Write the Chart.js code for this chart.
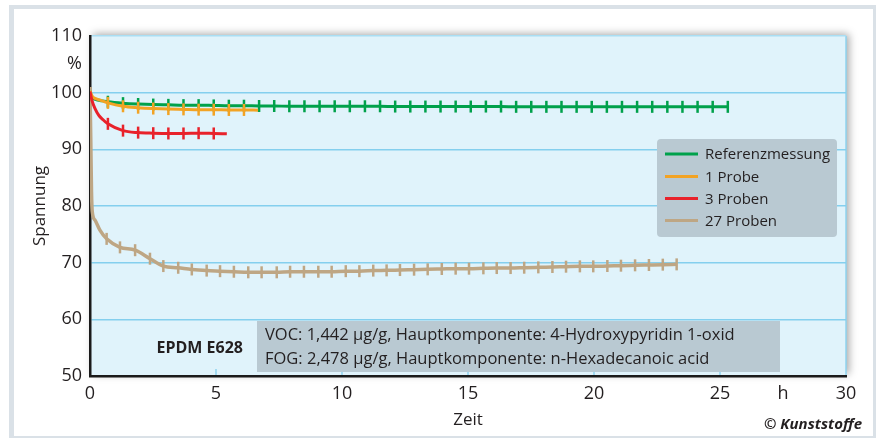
<!DOCTYPE html>
<html>
<head>
<meta charset="utf-8">
<script src="https://cdn.jsdelivr.net/npm/chart.js@4.4.1/dist/chart.umd.min.js"></script>
<style>
    body { margin: 0; background: #fff; }
    #frame {
        position: absolute; left: 9px; top: 5px; width: 867px; height: 433px;
        box-sizing: border-box; background: #fff;
        border-left: 5px solid #dae1e7; border-top: 4px solid #dae1e7;
        border-right: 3px solid #dae1e7; border-bottom: 2px solid #dae1e7;
    }
    #chart { position: absolute; left: 0; top: 0; }
</style>
</head>
<body>
<div id="frame"></div>
<canvas id="chart" width="876" height="439"></canvas>
<script>
// series labels
var seriesNames = ["Referenzmessung", "1 Probe", "3 Proben", "27 Proben"];

// Referenzmessung
var refLeadX = [0, 0.06, 0.15, 0.3, 0.5];
var refLeadY = [100.4, 99.2, 98.9, 98.7, 98.55];
var refTickX = [0.71, 1.31, 1.91, 2.51, 3.11, 3.71, 4.31, 4.91, 5.51, 6.11,
    6.71, 7.31, 7.91, 8.51, 9.11, 9.71, 10.31, 10.91, 11.51, 12.11,
    12.71, 13.31, 13.91, 14.51, 15.11, 15.71, 16.31, 16.91, 17.51, 18.11,
    18.71, 19.31, 19.91, 20.51, 21.11, 21.71, 22.31, 22.91, 23.51, 24.11,
    24.71, 25.31];
var refTickY = [98.4, 98.15, 98.0, 97.9, 97.85, 97.8, 97.8, 97.75, 97.7, 97.7,
    97.65, 97.65, 97.6, 97.6, 97.6, 97.6, 97.6, 97.6, 97.6, 97.55,
    97.55, 97.55, 97.55, 97.55, 97.55, 97.55, 97.55, 97.5, 97.5, 97.5,
    97.5, 97.5, 97.5, 97.5, 97.5, 97.5, 97.5, 97.5, 97.5, 97.5,
    97.5, 97.5];

// 1 Probe
var p1LeadX = [0, 0.1, 0.25, 0.45];
var p1LeadY = [100.3, 99.3, 98.9, 98.6];
var p1TickX = [0.71, 1.31, 1.91, 2.51, 3.11, 3.71, 4.31, 4.91, 5.51, 6.11];
var p1TickY = [98.2, 97.6, 97.35, 97.2, 97.1, 97.05, 97.0, 97.0, 96.95, 96.95];
var p1TailX = [6.67];
var p1TailY = [96.9];

// 3 Proben
var p3LeadX = [0, 0.08, 0.2, 0.35, 0.5];
var p3LeadY = [100.2, 98.6, 97.2, 96.0, 95.3];
var p3TickX = [0.71, 1.31, 1.91, 2.51, 3.11, 3.71, 4.31, 4.91];
var p3TickY = [94.5, 93.3, 92.95, 92.85, 92.8, 92.8, 92.85, 92.8];
var p3TailX = [5.43];
var p3TailY = [92.75];

// 27 Proben
var p27LeadX = [0, 0.03, 0.06, 0.09, 0.2, 0.4];
var p27LeadY = [101, 92, 82.5, 79, 77.5, 75.7];
var p27TickX = [0.66, 1.19, 1.79, 2.38, 2.91, 3.5, 4.04, 4.63, 5.16, 5.71,
    6.28, 6.81, 7.41, 7.94, 8.49, 9.06, 9.59, 10.15, 10.69, 11.24,
    11.77, 12.3, 12.86, 13.4, 13.96, 14.51, 15.04, 15.61, 16.14, 16.69,
    17.23, 17.79, 18.35, 18.89, 19.44, 19.97, 20.53, 21.07, 21.63, 22.18,
    22.73, 23.28];
var p27TickY = [74.2, 72.7, 72.2, 70.7, 69.4, 69.1, 68.8, 68.6, 68.5, 68.4,
    68.3, 68.3, 68.3, 68.4, 68.4, 68.4, 68.4, 68.5, 68.5, 68.6,
    68.64, 68.7, 68.76, 68.82, 68.88, 68.94, 68.94, 69.0, 69.05, 69.05,
    69.11, 69.17, 69.23, 69.29, 69.35, 69.35, 69.41, 69.47, 69.53, 69.59,
    69.65, 69.7];

// axis ticks
var xTickLabels = { 0: "0", 5: "5", 10: "10", 15: "15", 20: "20", 25: "25", 27.5: "h", 30: "30" };
var yTickLabels = { 50: "50", 60: "60", 70: "70", 80: "80", 90: "90", 100: "100", 105: "%", 110: "110" };

var noteTitle = "EPDM E628";
var noteLines = [
    "VOC: 1,442 \u00b5g/g, Hauptkomponente: 4-Hydroxypyridin 1-oxid",
    "FOG: 2,478 \u00b5g/g, Hauptkomponente: n-Hexadecanoic acid"
];

function pts(xs, ys) {
    return xs.map(function (x, i) { return { x: x, y: ys[i] }; });
}

function series(label, color, lead, ticks, tail, mark, width, order) {
    var nLead = lead.length, nTick = ticks.length;
    return {
        label: label,
        data: lead.concat(ticks, tail),
        borderColor: color,
        backgroundColor: color,
        borderWidth: width,
        cubicInterpolationMode: "monotone",
        pointStyle: "line",
        rotation: 90,
        pointBorderWidth: 2.5,
        pointBorderColor: color,
        pointRadius: function (c) {
            return c.dataIndex >= nLead && c.dataIndex < nLead + nTick ? mark : 0;
        },
        order: order,
    };
}

var FONT = "'Open Sans', sans-serif";
var TXT = "#231f20";

var decor = {
    id: "decor",
    beforeDraw: function (chart) {
        var ctx = chart.ctx, a = chart.chartArea, x = chart.scales.x;
        ctx.save();
        ctx.shadowColor = "rgba(0,0,0,0.35)";
        ctx.shadowBlur = 8;
        ctx.shadowOffsetX = 3;
        ctx.shadowOffsetY = -2;
        ctx.fillStyle = "#e0f3fb";
        ctx.fillRect(a.left, a.top, a.right - a.left, a.bottom - a.top);
        ctx.restore();

        ctx.save();
        ctx.strokeStyle = "#8fd3ef";
        ctx.lineWidth = 1.5;
        ctx.beginPath();
        ctx.moveTo(a.right, a.top);
        ctx.lineTo(a.right, a.bottom);
        [5, 10, 15, 20, 25].forEach(function (v) {
            var px = x.getPixelForValue(v);
            ctx.moveTo(px, a.bottom);
            ctx.lineTo(px, a.bottom - 7);
        });
        ctx.stroke();
        ctx.restore();
    },
    afterDraw: function (chart) {
        var ctx = chart.ctx;
        ctx.save();

        // legend
        ctx.fillStyle = "#b9c9d2";
        ctx.beginPath();
        ctx.roundRect(657, 139, 180, 98, 4);
        ctx.fill();
        ctx.font = "15px " + FONT;
        ctx.textBaseline = "middle";
        var rows = [154, 176.5, 198.5, 220.5];
        chart.data.datasets.forEach(function (ds, i) {
            ctx.strokeStyle = ds.borderColor;
            ctx.lineWidth = 3;
            ctx.beginPath();
            ctx.moveTo(665, rows[i]);
            ctx.lineTo(698, rows[i]);
            ctx.stroke();
            ctx.fillStyle = TXT;
            ctx.fillText(ds.label, 705, rows[i] + 1);
        });

        // note box
        ctx.fillStyle = "#b9c9d2";
        ctx.fillRect(257, 321, 523, 51);
        ctx.fillStyle = TXT;
        ctx.font = "16.5px " + FONT;
        ctx.fillText(noteLines[0], 265, 335);
        ctx.fillText(noteLines[1], 265, 359);
        ctx.font = "bold 16px " + FONT;
        ctx.textAlign = "right";
        ctx.fillText(noteTitle, 243, 348);

        ctx.font = "italic bold 15px " + FONT;
        ctx.fillText("\u00a9 Kunststoffe", 862, 425);
        ctx.restore();
    },
};

var ctx = document.getElementById("chart").getContext("2d");
var chart = new Chart(ctx, {
    type: "line",
    data: {
        datasets: [
            series(seriesNames[0], "#00a14b", pts(refLeadX, refLeadY), pts(refTickX, refTickY), [], 6, 3, 4),
            series(seriesNames[1], "#f2a324", pts(p1LeadX, p1LeadY), pts(p1TickX, p1TickY), pts(p1TailX, p1TailY), 6, 3, 2),
            series(seriesNames[2], "#e8222b", pts(p3LeadX, p3LeadY), pts(p3TickX, p3TickY), pts(p3TailX, p3TailY), 6, 3, 1),
            series(seriesNames[3], "#bea684", pts(p27LeadX, p27LeadY), pts(p27TickX, p27TickY), [], 6, 3.5, 3),
        ],
    },
    options: {
        responsive: false,
        animation: false,
        layout: { padding: { top: 36, right: 30, left: 0, bottom: 0 } },
        plugins: { legend: { display: false }, tooltip: { enabled: false } },
        scales: {
            x: {
                type: "linear",
                min: 0,
                max: 30,
                afterFit: function (s) { s.height = 63; },
                border: { color: "#1a1a1a", width: 2.5 },
                grid: { drawOnChartArea: false, drawTicks: false },
                ticks: {
                    stepSize: 2.5,
                    autoSkip: false,
                    maxRotation: 0,
                    padding: 7,
                    color: TXT,
                    font: { family: FONT, size: 18 },
                    callback: function (v) { return xTickLabels[v] || ""; },
                },
                title: {
                    display: true,
                    text: "Zeit",
                    color: TXT,
                    font: { family: FONT, size: 17 },
                    padding: { top: 0, bottom: 9 },
                },
            },
            y: {
                min: 50,
                max: 110,
                afterFit: function (s) { s.width = 90; },
                border: { color: "#1a1a1a", width: 2.5 },
                grid: {
                    drawTicks: false,
                    lineWidth: 1.5,
                    color: function (c) {
                        var v = c.tick.value;
                        if (v === 110) return "#a9def3";
                        if (v > 50 && v % 10 === 0) return "#84cfee";
                        return "rgba(0,0,0,0)";
                    },
                },
                ticks: {
                    stepSize: 5,
                    autoSkip: false,
                    padding: 8,
                    color: TXT,
                    font: { family: FONT, size: 18 },
                    callback: function (v) { return yTickLabels[v] || ""; },
                },
                title: {
                    display: true,
                    text: "Spannung",
                    color: TXT,
                    font: { family: FONT, size: 17 },
                    padding: { top: 30, bottom: 0 },
                },
            },
        },
    },
    plugins: [decor],
});
</script>
</body>
</html>
